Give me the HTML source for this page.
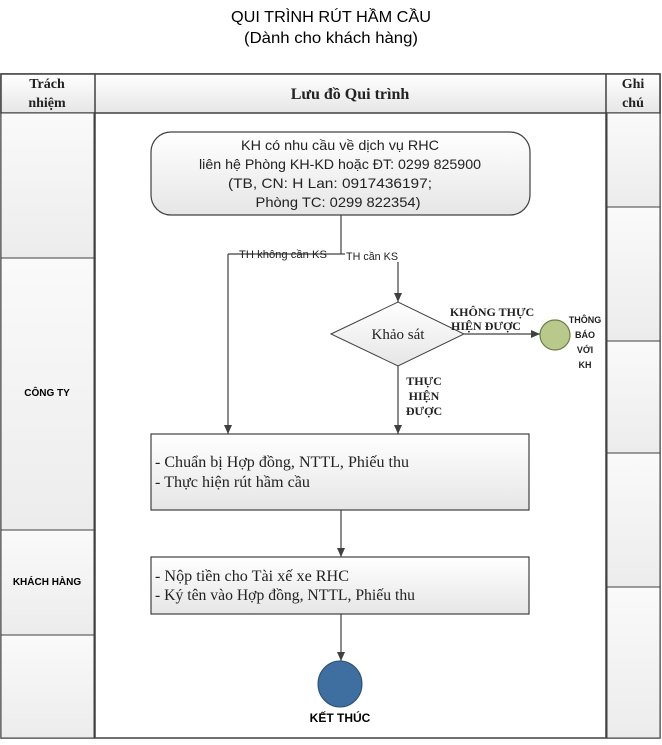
<!DOCTYPE html>
<html><head><meta charset="utf-8"><style>
body{margin:0;background:#fff;width:662px;height:740px;overflow:hidden}
</style></head><body>
<svg width="662" height="740" xmlns="http://www.w3.org/2000/svg" font-family="Liberation Sans, sans-serif">
<defs>
<linearGradient id="g" x1="0" y1="0" x2="0" y2="1"><stop offset="0" stop-color="#fafafa"/><stop offset="1" stop-color="#ececec"/></linearGradient>
<linearGradient id="gb" x1="0" y1="0" x2="0" y2="1"><stop offset="0" stop-color="#ffffff"/><stop offset="1" stop-color="#e6e6e6"/></linearGradient>
<marker id="a" markerWidth="10" markerHeight="10" refX="9" refY="5" orient="auto" markerUnits="userSpaceOnUse"><path d="M0,1 L9,5 L0,9 z" fill="#404040"/></marker>
</defs>
<text x="331" y="22" font-size="16" text-anchor="middle" fill="#000" textLength="200" lengthAdjust="spacingAndGlyphs">QUI TRÌNH RÚT HẦM CẦU</text>
<text x="331" y="43" font-size="16" text-anchor="middle" fill="#000" textLength="174" lengthAdjust="spacingAndGlyphs">(Dành cho khách hàng)</text>
<rect x="1" y="74" width="659" height="664" fill="#fff" stroke="#404040" stroke-width="1.5"/>
<rect x="1" y="74" width="659" height="39" fill="url(#gb)" stroke="#404040" stroke-width="1.5"/>
<line x1="95" y1="74" x2="95" y2="738" stroke="#404040" stroke-width="1.5"/>
<line x1="606" y1="74" x2="606" y2="738" stroke="#404040" stroke-width="1.5"/>
<g font-family="Liberation Serif, serif" font-weight="bold" font-size="14" text-anchor="middle" fill="#222">
<text x="47" y="88">Trách</text><text x="47" y="107">nhiệm</text>
<text x="350" y="99" font-size="16">Lưu đồ Qui trình</text>
<text x="633" y="88">Ghi</text><text x="633" y="107">chú</text>
</g>
<g stroke="#404040" stroke-width="1" fill="url(#g)">
<rect x="1" y="113" width="93" height="145"/>
<rect x="1" y="258" width="93" height="272"/>
<rect x="1" y="530" width="93" height="105"/>
<rect x="1" y="635" width="93" height="103"/>
<rect x="607" y="113" width="53" height="94"/>
<rect x="607" y="207" width="53" height="134"/>
<rect x="607" y="341" width="53" height="112"/>
<rect x="607" y="453" width="53" height="134"/>
<rect x="607" y="587" width="53" height="151"/>
</g>
<text x="47" y="396" font-size="10" font-weight="bold" text-anchor="middle">CÔNG TY</text>
<text x="47" y="585" font-size="10" font-weight="bold" text-anchor="middle">KHÁCH HÀNG</text>
<rect x="151" y="132" width="379" height="83" rx="20" fill="url(#gb)" stroke="#404040" stroke-width="1.2"/>
<g font-size="14" text-anchor="middle" fill="#222">
<text x="340" y="150" textLength="198" lengthAdjust="spacingAndGlyphs">KH có nhu cầu về dịch vụ RHC</text>
<text x="340" y="169" textLength="282" lengthAdjust="spacingAndGlyphs">liên hệ Phòng KH-KD hoặc ĐT: 0299 825900</text>
<text x="330" y="188" textLength="204" lengthAdjust="spacingAndGlyphs">(TB, CN: H  Lan: 0917436197;</text>
<text x="338" y="207" textLength="165" lengthAdjust="spacingAndGlyphs">Phòng TC: 0299 822354)</text>
</g>
<g stroke="#404040" stroke-width="1.2" fill="none">
<line x1="341" y1="215" x2="341" y2="254"/>
<polyline points="228,254 341,254 345,254"/>
<line x1="228" y1="254" x2="228" y2="434" marker-end="url(#a)"/>
<line x1="398" y1="262" x2="398" y2="302" marker-end="url(#a)"/>
<line x1="464" y1="334" x2="540" y2="334" marker-end="url(#a)"/>
<line x1="398" y1="366" x2="398" y2="434" marker-end="url(#a)"/>
<line x1="341" y1="510" x2="341" y2="557" marker-end="url(#a)"/>
<line x1="341" y1="614" x2="341" y2="661" marker-end="url(#a)"/>
</g>
<text x="239" y="258" font-size="11" fill="#222" textLength="88" lengthAdjust="spacingAndGlyphs">TH không cần KS</text>
<text x="346" y="260" font-size="11" fill="#222" textLength="52" lengthAdjust="spacingAndGlyphs">TH cần KS</text>
<polygon points="331,334 398,302 464,334 398,366" fill="url(#gb)" stroke="#404040" stroke-width="1"/>
<text x="398" y="339" font-family="Liberation Serif, serif" font-size="15" text-anchor="middle" fill="#222">Khảo sát</text>
<g font-family="Liberation Serif, serif" font-weight="bold" font-size="12" fill="#222" text-anchor="middle">
<text x="492" y="316">KHÔNG THỰC</text><text x="486" y="330">HIỆN ĐƯỢC</text>
<text x="424" y="385">THỰC</text><text x="424" y="400">HIỆN</text><text x="424" y="415">ĐƯỢC</text>
</g>
<circle cx="555" cy="335" r="15" fill="#b9c98c" stroke="#6e7d45" stroke-width="1.2"/>
<g font-size="9" font-weight="bold" text-anchor="middle" fill="#222">
<text x="585" y="323">THÔNG</text><text x="585" y="338">BÁO</text><text x="585" y="353">VỚI</text><text x="585" y="368">KH</text>
</g>
<rect x="151" y="434" width="378" height="76" fill="url(#gb)" stroke="#404040" stroke-width="1.2"/>
<g font-family="Liberation Serif, serif" font-size="16" fill="#222">
<text x="155" y="467" textLength="254" lengthAdjust="spacingAndGlyphs">- Chuẩn bị Hợp đồng, NTTL, Phiếu thu</text>
<text x="155" y="487" textLength="155" lengthAdjust="spacingAndGlyphs">- Thực hiện rút hầm cầu</text>
</g>
<rect x="151" y="557" width="378" height="57" fill="url(#gb)" stroke="#404040" stroke-width="1.2"/>
<g font-family="Liberation Serif, serif" font-size="16" fill="#222">
<text x="155" y="581" textLength="194" lengthAdjust="spacingAndGlyphs">- Nộp tiền cho Tài xế xe RHC</text>
<text x="155" y="600" textLength="260" lengthAdjust="spacingAndGlyphs">- Ký tên vào Hợp đồng, NTTL, Phiếu thu</text>
</g>
<ellipse cx="340" cy="684" rx="22" ry="23" fill="#3e6fa0" stroke="#2a4d73" stroke-width="1"/>
<text x="340" y="722" font-size="12" font-weight="bold" text-anchor="middle" fill="#000">KẾT THÚC</text>
</svg>
</body></html>
